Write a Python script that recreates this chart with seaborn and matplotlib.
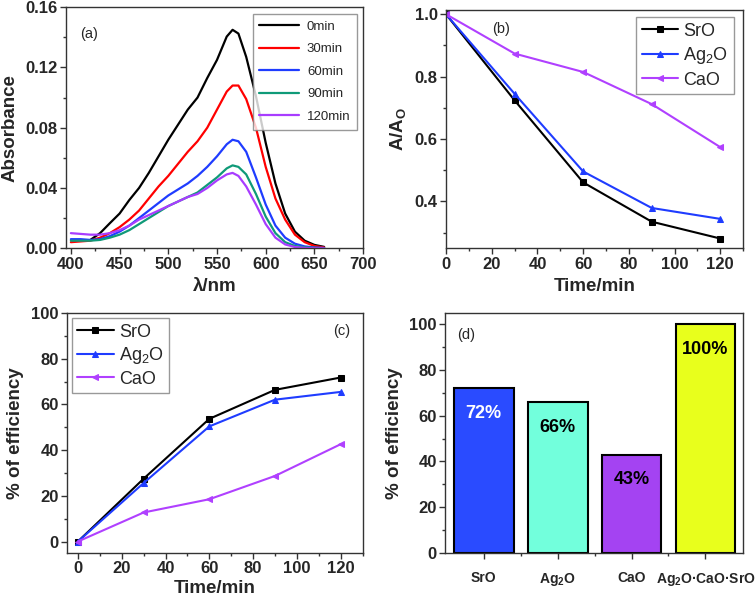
import numpy as np
import pandas as pd
import seaborn as sns
import matplotlib.pyplot as plt
from matplotlib.ticker import MultipleLocator

# ---- panel (a): UV-vis spectra ----
wl = [400, 410, 420, 430, 440, 450, 460, 470, 480, 490, 500, 510, 520, 530,
      540, 550, 560, 566, 572, 580, 590, 600, 610, 620, 630, 640, 650, 660]
abs_0 = [np.nan, np.nan, 0.0055, 0.010, 0.0166, 0.023, 0.032, 0.040, 0.050, 0.061,
         0.072, 0.082, 0.092, 0.100, 0.113, 0.125, 0.1405, 0.145, 0.1425, 0.127,
         0.101, 0.070, 0.043, 0.023, 0.011, 0.005, 0.0022, 0.0009]
abs_30 = [0.004, 0.0045, 0.005, 0.007, 0.010, 0.014, 0.019, 0.025, 0.033, 0.041,
          0.048, 0.056, 0.064, 0.071, 0.080, 0.092, 0.104, 0.108, 0.108, 0.099,
          0.080, 0.054, 0.033, 0.019, 0.009, 0.004, 0.0015, 0.0005]
abs_60 = [0.006, 0.006, 0.0055, 0.006, 0.008, 0.011, 0.015, 0.020, 0.025, 0.030,
          0.035, 0.039, 0.043, 0.048, 0.054, 0.061, 0.069, 0.072, 0.071, 0.064,
          0.047, 0.029, 0.015, 0.007, 0.003, 0.0012, 0.0005, 0.0002]
abs_90 = [0.005, 0.005, 0.005, 0.0055, 0.007, 0.009, 0.012, 0.016, 0.020, 0.024,
          0.028, 0.031, 0.034, 0.037, 0.042, 0.047, 0.053, 0.055, 0.054, 0.049,
          0.036, 0.021, 0.010, 0.004, 0.0015, 0.0006, 0.0002, 0.0]
abs_120 = [0.010, 0.0095, 0.009, 0.009, 0.010, 0.012, 0.015, 0.019, 0.022, 0.025,
           0.028, 0.031, 0.034, 0.036, 0.040, 0.045, 0.049, 0.050, 0.048, 0.041,
           0.029, 0.016, 0.007, 0.0025, 0.0008, 0.0002, 0.0, 0.0]
spec_labels = ["0min", "30min", "60min", "90min", "120min"]
spec_colors = ["black", "#ff0000", "#1f3cff", "#0f9a78", "#a83cff"]

# ---- panels (b), (c): kinetics ----
time = [0, 30, 60, 90, 120]
ratio_sro = [1.0, 0.724, 0.461, 0.335, 0.281]
ratio_ag2o = [1.0, 0.745, 0.496, 0.379, 0.344]
ratio_cao = [1.0, 0.874, 0.815, 0.712, 0.574]
eff_sro = [0, 27.5, 53.7, 66.4, 71.8]
eff_ag2o = [0, 25.6, 50.4, 62.1, 65.5]
eff_cao = [0, 12.7, 18.5, 28.7, 42.6]

# ---- panel (d): final efficiency ----
bar_names = ["SrO", r"Ag$_\mathbf{2}$O", "CaO", r"Ag$_\mathbf{2}$O·CaO·SrO"]
bar_values = [72, 66, 43, 100]
bar_colors = ["#2a4bff", "#72ffdc", "#a443f2", "#e8ff1c"]
bar_text = ["72%", "66%", "43%", "100%"]
bar_text_colors = ["white", "black", "black", "black"]

sns.set_style("ticks")
plt.rcParams["font.family"] = ["Liberation Sans", "DejaVu Sans"]
plt.rcParams["mathtext.fontset"] = "custom"
plt.rcParams["mathtext.rm"] = "Liberation Sans"
plt.rcParams["mathtext.bf"] = "Liberation Sans:bold"
plt.rcParams["mathtext.it"] = "Liberation Sans:italic"
plt.rcParams["axes.edgecolor"] = "#333333"
plt.rcParams["axes.linewidth"] = 1.0

TICK = 12
LAB = 13.5


def style_axes(ax):
    ax.tick_params(which="major", direction="out", length=4, width=1,
                   labelsize=TICK, color="#333333", pad=2)
    ax.tick_params(which="minor", direction="out", length=2.5, width=1,
                   color="#333333")
    for lab in ax.get_xticklabels() + ax.get_yticklabels():
        lab.set_fontweight("bold")
    for s in ax.spines.values():
        s.set_visible(True)


def box_legend(ax, loc, anchor, size, **kw):
    ax.legend(loc=loc, bbox_to_anchor=anchor, fontsize=size, frameon=True,
              fancybox=False, edgecolor="#808080", borderaxespad=0, **kw)


fig = plt.figure(figsize=(7.56, 6.01), dpi=100)
ax_a = fig.add_axes([0.0873, 0.587, 0.393, 0.401])
ax_b = fig.add_axes([0.590, 0.587, 0.393, 0.396])
ax_c = fig.add_axes([0.0886, 0.080, 0.391, 0.399])
ax_d = fig.add_axes([0.589, 0.080, 0.394, 0.399])

# (a)
for vals, lab, col in zip([abs_0, abs_30, abs_60, abs_90, abs_120], spec_labels, spec_colors):
    sns.lineplot(x=wl, y=vals, color=col, label=lab, linewidth=1.6, ax=ax_a)
ax_a.set_xlim(395, 700)
ax_a.set_ylim(0, 0.16)
ax_a.xaxis.set_major_locator(MultipleLocator(50))
ax_a.xaxis.set_minor_locator(MultipleLocator(25))
ax_a.yaxis.set_major_locator(MultipleLocator(0.04))
ax_a.yaxis.set_minor_locator(MultipleLocator(0.02))
ax_a.yaxis.set_major_formatter(plt.FormatStrFormatter("%.2f"))
ax_a.set_xlabel("λ/nm", fontsize=LAB, fontweight="bold", labelpad=5)
ax_a.set_ylabel("Absorbance", fontsize=LAB, fontweight="bold", labelpad=5)
box_legend(ax_a, "upper right", (0.98, 0.972), 9.5, handlelength=3.0,
           labelspacing=0.78, borderpad=0.5, handletextpad=0.6)
ax_a.text(0.047, 0.89, "(a)", transform=ax_a.transAxes, fontsize=10.5, va="center")
style_axes(ax_a)

# (b)
series = [("SrO", "black", "s"), (r"Ag$_2$O", "#1f3cff", "^"), ("CaO", "#b040ff", "<")]
for (lab, col, mk), vals in zip(series, [ratio_sro, ratio_ag2o, ratio_cao]):
    sns.lineplot(x=time, y=vals, color=col, marker=mk, markersize=5,
                 markeredgecolor=col, label=lab, linewidth=1.5, ax=ax_b)
ax_b.set_xlim(0, 130)
ax_b.set_ylim(0.25, 1.013)
ax_b.xaxis.set_major_locator(MultipleLocator(20))
ax_b.xaxis.set_minor_locator(MultipleLocator(10))
ax_b.yaxis.set_major_locator(MultipleLocator(0.2))
ax_b.yaxis.set_minor_locator(MultipleLocator(0.1))
ax_b.yaxis.set_major_formatter(plt.FormatStrFormatter("%.1f"))
ax_b.set_xlabel("Time/min", fontsize=LAB, fontweight="bold", labelpad=5)
ax_b.set_ylabel(r"A/A$_\mathbf{O}$", fontsize=LAB, fontweight="bold", labelpad=5)
box_legend(ax_b, "upper right", (0.968, 0.97), 13, handlelength=2.0,
           labelspacing=0.3, handletextpad=0.3, borderpad=0.3)
ax_b.text(0.155, 0.92, "(b)", transform=ax_b.transAxes, fontsize=10.5, va="center")
style_axes(ax_b)

# (c)
for (lab, col, mk), vals in zip(series, [eff_sro, eff_ag2o, eff_cao]):
    sns.lineplot(x=time, y=vals, color=col, marker=mk, markersize=5,
                 markeredgecolor=col, label=lab, linewidth=1.5, ax=ax_c)
ax_c.set_xlim(-5, 130)
ax_c.set_ylim(-5, 100)
ax_c.xaxis.set_major_locator(MultipleLocator(20))
ax_c.xaxis.set_minor_locator(MultipleLocator(10))
ax_c.yaxis.set_major_locator(MultipleLocator(20))
ax_c.yaxis.set_minor_locator(MultipleLocator(10))
ax_c.set_xlabel("Time/min", fontsize=LAB, fontweight="bold", labelpad=3)
ax_c.set_ylabel("% of efficiency", fontsize=LAB, fontweight="bold", labelpad=5)
box_legend(ax_c, "upper left", (0.017, 0.979), 13, handlelength=2.0,
           labelspacing=0.25, handletextpad=0.3, borderpad=0.3)
ax_c.text(0.9, 0.925, "(c)", transform=ax_c.transAxes, fontsize=10.5, va="center")
style_axes(ax_c)

# (d)
df_d = pd.DataFrame({"name": bar_names, "value": bar_values})
sns.barplot(data=df_d, x="name", y="value", hue="name", palette=bar_colors,
            saturation=1, width=0.81, edgecolor="black", linewidth=1.5,
            legend=False, ax=ax_d)
for i, (v, t, c) in enumerate(zip(bar_values, bar_text, bar_text_colors)):
    ax_d.text(i, v - 11, t, ha="center", va="center", fontsize=13,
              fontweight="bold", color=c)
ax_d.set_xlim(-0.52, 3.51)
ax_d.set_ylim(0, 104.8)
ax_d.yaxis.set_major_locator(MultipleLocator(20))
ax_d.yaxis.set_minor_locator(MultipleLocator(10))
ax_d.set_xticks(range(len(bar_names)))
ax_d.set_xticks([0.5, 1.5, 2.5], minor=True)
ax_d.set_xlabel("")
ax_d.set_ylabel("% of efficiency", fontsize=LAB, fontweight="bold", labelpad=5)
ax_d.text(0.04, 0.908, "(d)", transform=ax_d.transAxes, fontsize=10.5, va="center")
style_axes(ax_d)
ax_d.tick_params(axis="x", pad=9, labelsize=10)

fig.savefig("out.png", dpi=100)
